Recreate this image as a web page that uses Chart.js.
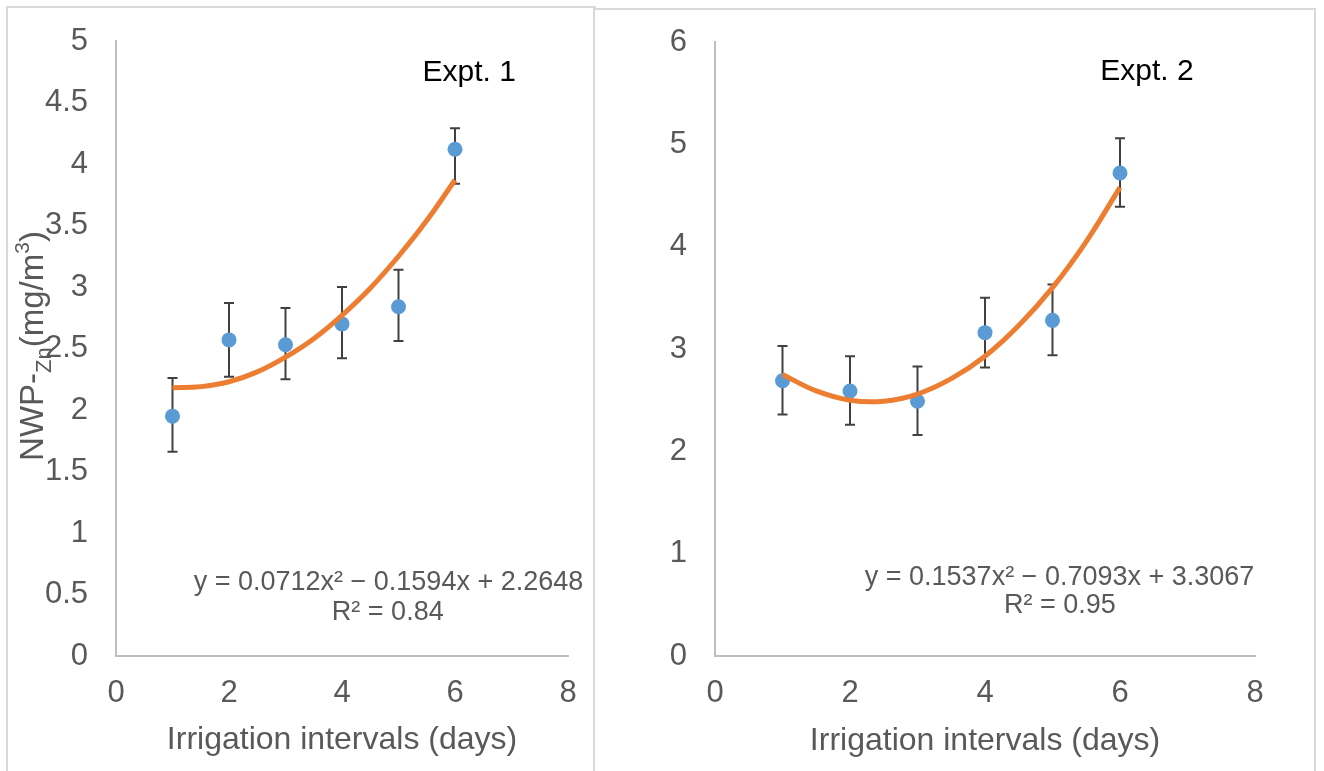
<!DOCTYPE html>
<html>
<head>
<meta charset="utf-8">
<script src="https://cdn.jsdelivr.net/npm/chart.js@4.4.1/dist/chart.umd.min.js"></script>
<style>
  html, body { margin: 0; padding: 0; background: #fff; overflow: hidden; }
  .panel { position: absolute; border: 2px solid #d9d9d9; box-sizing: border-box; background: #fff; overflow: hidden; }
  #p1 { left: 6px; top: 6px; width: 590px; height: 800px; }
  #p2 { left: 593px; top: 8px; width: 723px; height: 800px; }
  canvas { display: block; }
</style>
</head>
<body>
<div class="panel" id="p1"><canvas id="chart1" width="586" height="763"></canvas></div>
<div class="panel" id="p2"><canvas id="chart2" width="719" height="761"></canvas></div>
<script>
const days = [1, 2, 3, 4, 5, 6];
const expt1Mean = [1.95, 2.57, 2.53, 2.70, 2.84, 4.12];
const expt1Upper = [2.26, 2.87, 2.83, 3.00, 3.14, 4.29];
const expt1Lower = [1.66, 2.27, 2.25, 2.42, 2.56, 3.84];
const expt2Mean = [2.69, 2.59, 2.49, 3.16, 3.28, 4.72];
const expt2Upper = [3.03, 2.93, 2.83, 3.50, 3.63, 5.06];
const expt2Lower = [2.36, 2.26, 2.16, 2.82, 2.94, 4.39];

// polynomial trend lines
const trendDays = [1, 1.5, 2, 2.5, 3, 3.5, 4, 4.5, 5, 5.5, 6];
const expt1Trend = [2.18, 2.19, 2.23, 2.31, 2.43, 2.58, 2.77, 2.99, 3.25, 3.54, 3.87];
const expt2Trend = [2.75, 2.59, 2.50, 2.49, 2.56, 2.71, 2.93, 3.23, 3.60, 4.05, 4.58];

const xTicks = [0, 2, 4, 6, 8];
const expt1YTicks = [0, 0.5, 1, 1.5, 2, 2.5, 3, 3.5, 4, 4.5, 5];
const expt2YTicks = [0, 1, 2, 3, 4, 5, 6];

const expt1Eq = 'y = 0.0712x\u00B2 \u2212 0.1594x + 2.2648';
const expt1R2 = 'R\u00B2 = 0.84';
const expt2Eq = 'y = 0.1537x\u00B2 \u2212 0.7093x + 3.3067';
const expt2R2 = 'R\u00B2 = 0.95';

const FONT = '"Liberation Sans", Arial, sans-serif';
const GREY = '#595959';

const errorBars = {
  id: 'errorBars',
  beforeDatasetsDraw(chart) {
    const ds = chart.data.datasets[1];
    const { ctx, scales: { x, y } } = chart;
    ctx.save();
    ctx.strokeStyle = '#404040';
    ctx.lineWidth = 2;
    ds.data.forEach((p, i) => {
      const px = x.getPixelForValue(p.x);
      const top = y.getPixelForValue(ds.upper[i]);
      const bot = y.getPixelForValue(ds.lower[i]);
      ctx.beginPath();
      ctx.moveTo(px, top); ctx.lineTo(px, bot);
      ctx.moveTo(px - 5, top); ctx.lineTo(px + 5, top);
      ctx.moveTo(px - 5, bot); ctx.lineTo(px + 5, bot);
      ctx.stroke();
    });
    ctx.restore();
  }
};

// text boxes (panel label, trendline equation) and the rotated y title
function makeNotes(items, yTitle) {
  return {
    id: 'notes',
    afterDraw(chart) {
      const { ctx, scales: { x, y } } = chart;
      ctx.save();
      ctx.textBaseline = 'middle';
      items.forEach(it => {
        ctx.font = it.font;
        ctx.fillStyle = it.color;
        ctx.textAlign = it.align;
        ctx.fillText(it.text, x.getPixelForValue(it.x), y.getPixelForValue(it.y));
      });
      ctx.restore();
      if (!yTitle) return;
      ctx.save();
      ctx.translate(yTitle.left, yTitle.middle);
      ctx.rotate(-Math.PI / 2);
      ctx.textAlign = 'left';
      ctx.textBaseline = 'alphabetic';
      ctx.fillStyle = GREY;
      let total = 0;
      yTitle.parts.forEach(p => {
        ctx.font = 'normal ' + p.size + 'px ' + FONT;
        total += ctx.measureText(p.text).width;
      });
      let cx = -total / 2;
      yTitle.parts.forEach(p => {
        ctx.font = 'normal ' + p.size + 'px ' + FONT;
        ctx.fillText(p.text, cx, p.shift);
        cx += ctx.measureText(p.text).width;
      });
      ctx.restore();
    }
  };
}

function makeChart(id, mean, upper, lower, trend, yTicks, yMax, layout, items, yTitle) {
  const ctx = document.getElementById(id).getContext('2d');
  return new Chart(ctx, {
    type: 'scatter',
    data: {
      datasets: [
        {
          label: 'Trend',
          data: trendDays.map((d, i) => ({ x: d, y: trend[i] })),
          showLine: true,
          borderColor: '#ED7D31',
          borderWidth: 5,
          pointRadius: 0,
          tension: 0.4,
          order: 0
        },
        {
          label: 'Mean',
          data: days.map((d, i) => ({ x: d, y: mean[i] })),
          upper: upper,
          lower: lower,
          backgroundColor: '#5B9BD5',
          borderWidth: 0,
          pointRadius: 7.5,
          order: 1
        }
      ]
    },
    options: {
      responsive: false,
      animation: false,
      layout: { padding: { top: layout.top, right: layout.right, left: 0, bottom: 0 } },
      plugins: {
        legend: { display: false },
        tooltip: { enabled: false }
      },
      scales: {
        x: {
          type: 'linear',
          min: 0,
          max: 8,
          afterBuildTicks: (s) => { s.ticks = xTicks.map(v => ({ value: v })); },
          afterFit: (s) => { s.height = layout.xHeight; s.paddingLeft = 0; s.paddingRight = 0; },
          grid: { display: false, drawTicks: false },
          border: { display: true, color: '#BFBFBF', width: 2 },
          ticks: { color: GREY, font: { family: FONT, size: 31 }, padding: 19, maxRotation: 0 },
          title: {
            display: true,
            text: 'Irrigation intervals (days)',
            color: GREY,
            font: { family: FONT, size: 32 },
            padding: { top: 0, bottom: layout.titlePad }
          }
        },
        y: {
          min: 0,
          max: yMax,
          afterBuildTicks: (s) => { s.ticks = yTicks.map(v => ({ value: v })); },
          afterFit: (s) => { s.width = layout.yWidth; s.paddingTop = 0; s.paddingBottom = 0; },
          grid: { display: false, drawTicks: false },
          border: { display: true, color: '#BFBFBF', width: 2 },
          ticks: {
            color: GREY,
            font: { family: FONT, size: 31 },
            padding: 28,
            callback: (v) => String(v)
          }
        }
      }
    },
    plugins: [errorBars, makeNotes(items, yTitle)]
  });
}

makeChart('chart1', expt1Mean, expt1Upper, expt1Lower, expt1Trend, expt1YTicks, 5,
  { top: 33, right: 26, yWidth: 108, xHeight: 115, titlePad: 12 },
  [
    { text: 'Expt. 1', x: 6.25, y: 4.74, align: 'center', font: '30px ' + FONT, color: '#000' },
    { text: expt1Eq, x: 8.27, y: 0.60, align: 'right', font: '27px ' + FONT, color: GREY },
    { text: expt1R2, x: 4.81, y: 0.357, align: 'center', font: '27px ' + FONT, color: GREY }
  ],
  {
    left: 35,
    middle: 338,
    parts: [
      { text: 'NWP-', size: 33, shift: 0 },
      { text: 'Zn', size: 22, shift: 8 },
      { text: '(mg/m', size: 33, shift: 0 },
      { text: '3', size: 21, shift: -14 },
      { text: ')', size: 33, shift: 0 }
    ]
  });

makeChart('chart2', expt2Mean, expt2Upper, expt2Lower, expt2Trend, expt2YTicks, 6,
  { top: 32, right: 59, yWidth: 120, xHeight: 115, titlePad: 11 },
  [
    { text: 'Expt. 2', x: 6.4, y: 5.71, align: 'center', font: '30px ' + FONT, color: '#000' },
    { text: expt2Eq, x: 7.99, y: 0.77, align: 'right', font: '27px ' + FONT, color: GREY },
    { text: expt2R2, x: 5.11, y: 0.49, align: 'center', font: '27px ' + FONT, color: GREY }
  ],
  null);
</script>
</body>
</html>
